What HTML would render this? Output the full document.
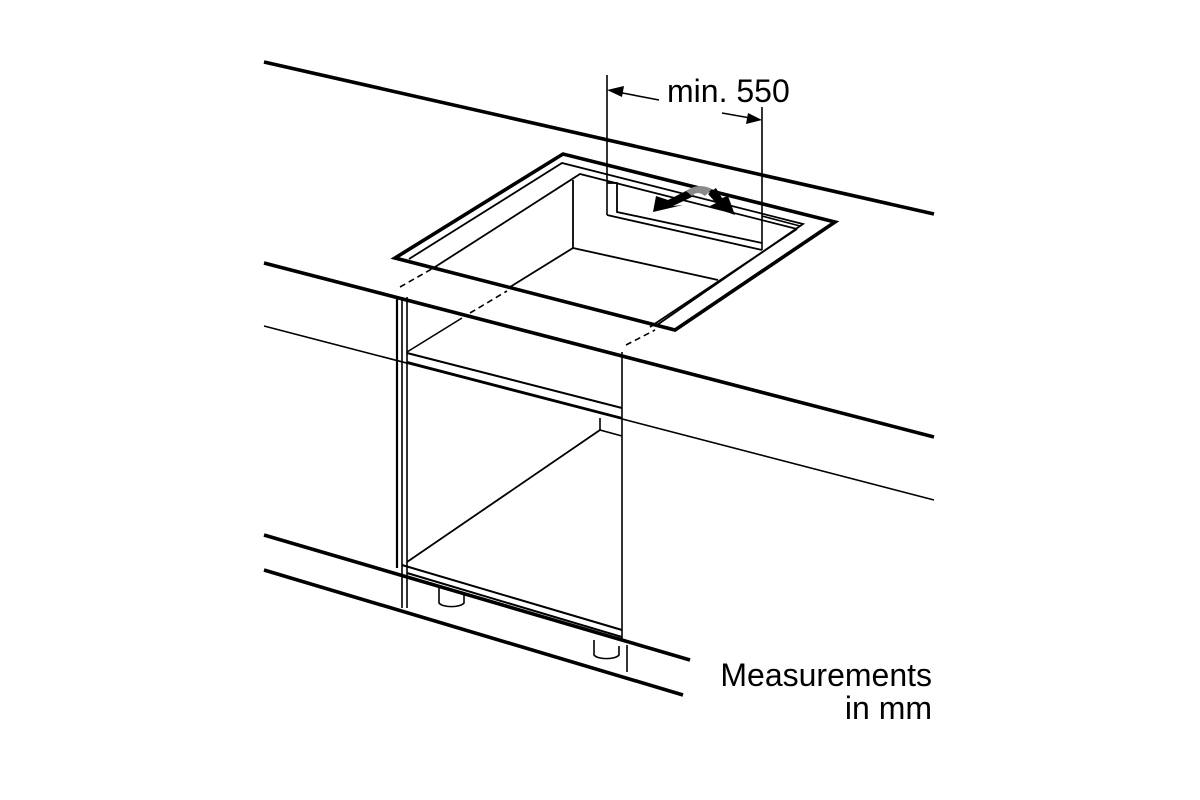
<!DOCTYPE html>
<html><head><meta charset="utf-8"><style>
html,body{margin:0;padding:0;background:#fff;width:1200px;height:800px;overflow:hidden}
svg{display:block}
text{font-family:"Liberation Sans",Arial,sans-serif;fill:#000}
</style></head><body>
<svg width="1200" height="800" viewBox="0 0 1200 800" xmlns="http://www.w3.org/2000/svg">
<rect width="1200" height="800" fill="#fff"/>
<g stroke="#000" fill="none" stroke-linecap="butt" stroke-linejoin="miter">
<line x1="264" y1="62" x2="934" y2="214" stroke-width="3.6"/>
<line x1="264" y1="263" x2="934" y2="437" stroke-width="3.6"/>
<line x1="264" y1="326" x2="934" y2="500" stroke-width="1.6"/>
<line x1="264" y1="535" x2="690" y2="660" stroke-width="3.6"/>
<line x1="264" y1="570" x2="683" y2="695" stroke-width="3.6"/>
<polygon points="395,258 563,154 835,222 675,330" fill="#fff" stroke-width="3.6"/>
<polyline points="409,259 562,163 803,224 657,325" stroke-width="1.8"/>
<polyline points="435,267 580,174 797,229" stroke-width="1.8"/>
<line x1="797" y1="229" x2="650" y2="327" stroke-width="1.8"/>
<line x1="573" y1="180" x2="573" y2="248" stroke-width="1.8"/>
<line x1="573" y1="248" x2="718" y2="280" stroke-width="1.8"/>
<line x1="573" y1="248" x2="510" y2="287" stroke-width="1.8"/>
<polyline points="607,183 617,183 617,212 762,243" stroke-width="1.8"/>
<line x1="607" y1="215" x2="762" y2="250" stroke-width="1.8"/>
<line x1="762" y1="216" x2="800" y2="226" stroke-width="1.6"/>
<line x1="607" y1="75" x2="607" y2="215" stroke-width="1.6"/>
<line x1="762" y1="107" x2="762" y2="250" stroke-width="1.6"/>
<line x1="612" y1="91" x2="659" y2="100" stroke-width="1.6"/>
<line x1="722" y1="113" x2="756" y2="119" stroke-width="1.6"/>
<line x1="400" y1="287" x2="437" y2="266" stroke-width="1.6" stroke-dasharray="6,4"/>
<line x1="470" y1="313" x2="507" y2="291" stroke-width="1.6" stroke-dasharray="6,4"/>
<line x1="626" y1="345" x2="655" y2="330" stroke-width="1.6" stroke-dasharray="6,4"/>
<line x1="397" y1="297" x2="397" y2="568" stroke-width="2.2"/>
<line x1="402" y1="297" x2="402" y2="608" stroke-width="1.6"/>
<line x1="407" y1="297" x2="407" y2="608" stroke-width="1.6"/>
<line x1="622" y1="352" x2="622" y2="640" stroke-width="1.6"/>
<line x1="627" y1="645" x2="627" y2="672" stroke-width="1.6"/>
<line x1="407" y1="352" x2="462" y2="318" stroke-width="1.6"/>
<line x1="407" y1="353" x2="622" y2="408" stroke-width="2"/>
<line x1="407" y1="362" x2="622" y2="418" stroke-width="2"/>
<polyline points="600,418 600,430 622,436" stroke-width="1.6"/>
<line x1="407" y1="562" x2="600" y2="430" stroke-width="1.8"/>
<line x1="402" y1="565" x2="622" y2="630" stroke-width="2"/>
<line x1="407" y1="573" x2="622" y2="637" stroke-width="2"/>
<path d="M439,588 V603 A13,5 0 0 0 464,603 V594" stroke-width="1.6"/>
<path d="M594,640 V655 A13,5 0 0 0 619,655 V646" stroke-width="1.6"/>
</g>
<polygon points="607,90 624,86 622,97" fill="#000"/>
<polygon points="762,120 746,124 748,113" fill="#000"/>
<!-- airflow -->
<polygon points="653,212 656,196 668,200 690,189 694,196 673,206 683,205" fill="#000"/>
<path d="M686,191 Q698,182 712,189 L705,196 Q697,190 692,196 Z" fill="#8a8a8a"/>
<polygon points="708,194 716,188 722,198 728,196 735,215 710,206 716,203" fill="#000"/>
<text x="667" y="102" font-size="32">min. 550</text>
<text x="932" y="686" font-size="32" text-anchor="end">Measurements</text>
<text x="932" y="719" font-size="32" text-anchor="end">in mm</text>
</svg>
</body></html>
